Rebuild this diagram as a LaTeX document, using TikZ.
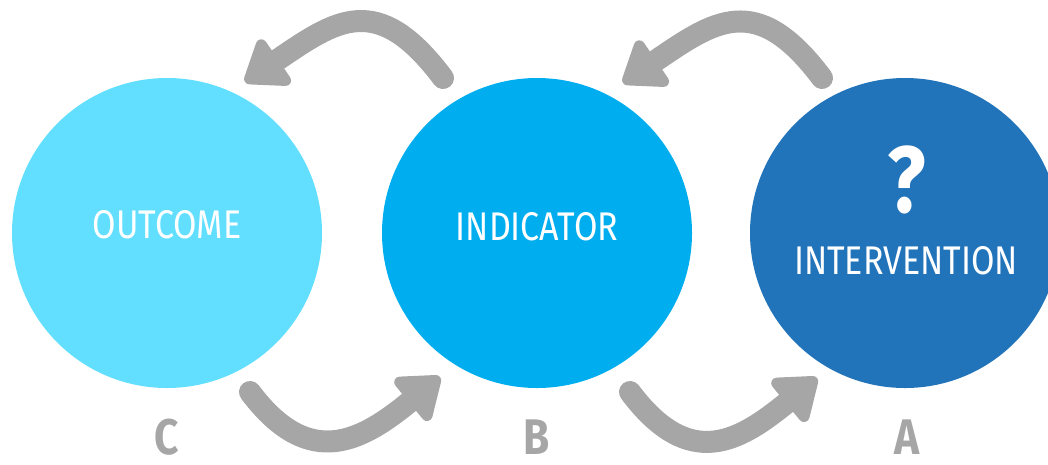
\documentclass[tikz,border=0pt]{standalone}
\usepackage{fontspec}
\usepackage{xcolor}
\usetikzlibrary{arrows.meta}
\newfontfamily\capfont[FakeStretch=0.85]{Fira Sans}

\definecolor{outcomecol}{HTML}{62DFFF}
\definecolor{indicatorcol}{HTML}{00AEEF}
\definecolor{interventioncol}{HTML}{2173BA}
\definecolor{arrowgray}{HTML}{A6A6A6}

\tikzset{
  bubble/.style={circle,minimum size=310pt,inner sep=0pt,draw=none},
  bubbletext/.style={text=white,inner sep=0pt,font=\capfont\fontsize{40}{44}\selectfont},
  stagetext/.style={text=arrowgray,inner sep=0pt,font=\capfont\bfseries\fontsize{50}{54}\selectfont},
  loopar/.style={draw=arrowgray,line width=22pt,line cap=round,
    -{Triangle[length=44pt,width=62pt,round]}},
}

\begin{document}
\begin{tikzpicture}[x=1pt,y=-1pt]
\useasboundingbox (0,0) rectangle (1048,464);
\clip (0,0) rectangle (1048,464);

%circles
\node[bubble,fill=outcomecol] (outcome) at (167,233) {};
\node[bubble,fill=indicatorcol] (indicator) at (537,233) {};
\node[bubble,fill=interventioncol] (intervention) at (905,233) {};

%labels inside
\node[bubbletext] (outcomelbl) at (167,225) {OUTCOME};
\node[bubbletext] (indicatorlbl) at (537,227) {INDICATOR};
\node[bubbletext] (interventionlbl) at (906,261) {INTERVENTION};
\node[text=white,inner sep=0pt,font=\capfont\bfseries\fontsize{94}{98}\selectfont] (qmark) at (907,180) {?};

%letters underneath
\node[stagetext] (stagec) at (167,437) {C};
\node[stagetext] (stageb) at (537,437) {B};
\node[stagetext] (stagea) at (907,437) {A};

%arrow ends
\coordinate (topltail) at (443,78);
\coordinate (topltip) at (245,82);
\coordinate (toprtail) at (822,78);
\coordinate (toprtip) at (623,83);
\coordinate (botltail) at (250,392);
\coordinate (botltip) at (440,377);
\coordinate (botrtail) at (630,392);
\coordinate (botrtip) at (817,378);

%curved arrows
\draw[loopar] (topltail) .. controls ++(-66,-88) and ++(91,-62) .. (topltip);
\draw[loopar] (toprtail) .. controls ++(-66,-88) and ++(91,-62) .. (toprtip);
\draw[loopar] (botltail) .. controls ++(60,80) and ++(-77,63) .. (botltip);
\draw[loopar] (botrtail) .. controls ++(60,80) and ++(-77,63) .. (botrtip);
\end{tikzpicture}
\end{document}
